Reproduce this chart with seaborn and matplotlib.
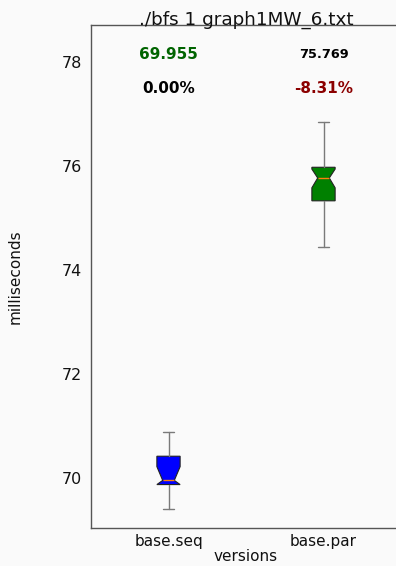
import matplotlib
matplotlib.use("Agg")
import matplotlib.pyplot as plt
import seaborn as sns

# Summary statistics per version (milliseconds)
versions = ["base.seq", "base.par"]
whisker_low = [69.40, 74.45]
quartile_1 = [69.875, 75.33]
medians = [69.955, 75.769]
quartile_3 = [70.42, 75.975]
whisker_high = [70.89, 76.85]
notch_low = [69.875, 75.58]
notch_high = [70.22, 75.94]
box_colors = ["#0000ff", "#008000"]

# Labels printed above each box
value_labels = ["69.955", "75.769"]
value_colors = ["darkgreen", "black"]
value_sizes = [11, 9.3]
change_labels = ["0.00%", "-8.31%"]
change_colors = ["black", "darkred"]

sns.set_theme(style="white")
plt.rcParams["font.family"] = ["DejaVu Sans"]
bg = "#fafafa"

fig = plt.figure(figsize=(3.96, 5.66), dpi=100, facecolor=bg)
ax = fig.add_axes([91 / 396, 38 / 566, 310 / 396, 503 / 566])
ax.set_facecolor(bg)

stats = []
for i, name in enumerate(versions):
    stats.append(dict(label=name, med=medians[i], q1=quartile_1[i], q3=quartile_3[i],
                      whislo=whisker_low[i], whishi=whisker_high[i],
                      cilo=notch_low[i], cihi=notch_high[i], fliers=[]))

parts = ax.bxp(stats, positions=[1, 2], widths=0.15, shownotches=True,
               patch_artist=True, showfliers=False,
               boxprops=dict(edgecolor="#222222", linewidth=0.8),
               whiskerprops=dict(color="#7a7a7a", linewidth=1.0),
               capprops=dict(color="#7a7a7a", linewidth=1.0),
               medianprops=dict(color="#ff7f0e", linewidth=1.0))
for patch, c in zip(parts["boxes"], box_colors):
    patch.set_facecolor(c)

ax.set_xlim(0.5, 2.5)
ax.set_ylim(69.04, 78.71)
ax.set_yticks([70, 72, 74, 76, 78])
ax.set_xticks([1, 2])
ax.set_xticklabels(versions)

for i in range(len(versions)):
    ax.text(i + 1, 78.148, value_labels[i], ha="center", va="center",
            fontsize=value_sizes[i], fontweight="bold", color=value_colors[i])
    ax.text(i + 1, 77.48, change_labels[i], ha="center", va="center",
            fontsize=11, fontweight="bold", color=change_colors[i])

ax.set_title("./bfs 1 graph1MW_6.txt", fontsize=13.2, pad=0, color="#111111")
ax.set_xlabel("versions", fontsize=11, labelpad=0.5, color="#111111")
ax.set_ylabel("milliseconds", fontsize=11, labelpad=28, color="#111111")
ax.tick_params(axis="both", labelsize=11, colors="#111111", length=3, width=0.8)
ax.tick_params(axis="x", direction="inout", length=4, color="#aaaaaa", pad=2)
ax.tick_params(axis="y", color="#555555", labelsize=11.5)
for s in ax.spines.values():
    s.set_color("#555555")
    s.set_linewidth(1.0)

fig.savefig("out.png", dpi=100, facecolor=bg)
